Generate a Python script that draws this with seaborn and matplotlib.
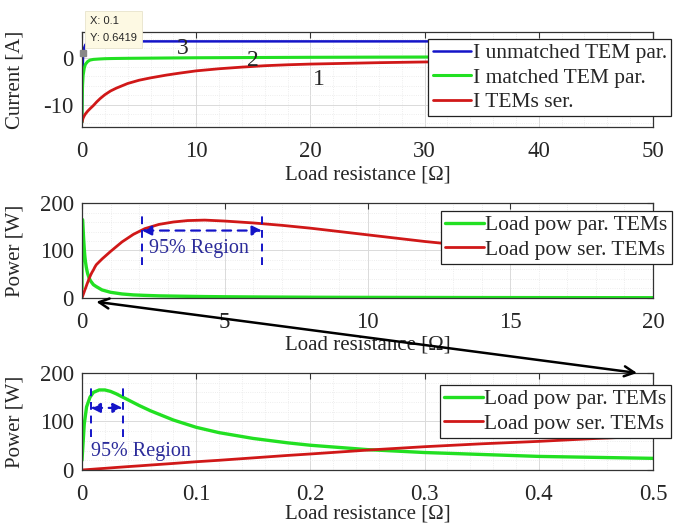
import numpy as np
import pandas as pd
import matplotlib
matplotlib.use('Agg')
import matplotlib.pyplot as plt
from matplotlib.patches import ConnectionPatch
from matplotlib.ticker import MultipleLocator, StrMethodFormatter
import seaborn as sns


# Current vs load resistance (top panel)
r_cur = [0, 0.02, 0.05, 0.1, 0.2, 0.3, 0.5, 0.7, 1, 1.3, 1.6, 2, 2.5, 3, 4, 5, 6, 7.4, 8.5, 10,
         12, 14, 16, 18, 20, 23, 26, 30, 35, 40, 45, 50]
i_unmatched = [-13.8, -8, -3, 0.64, 2.2, 2.8, 3.2, 3.35, 3.45, 3.5, 3.5, 3.5, 3.5, 3.5, 3.5,
               3.5, 3.5, 3.5, 3.5, 3.5, 3.5, 3.5, 3.5, 3.5, 3.5, 3.5, 3.5, 3.5, 3.5, 3.5,
               3.5, 3.5]
i_matched = [-13.8, -9, -6, -3.8, -2.2, -1.4, -0.8, -0.5, -0.35, -0.3, -0.25, -0.2, -0.17,
             -0.15, -0.12, -0.1, -0.08, -0.05, -0.03, 0, 0.02, 0.04, 0.06, 0.08, 0.1, 0.12,
             0.14, 0.16, 0.18, 0.2, 0.2, 0.2]
i_series = [-13.8, -13.6, -13.3, -12.9, -12.4, -12.0, -11.4, -10.9, -10.2, -9.4, -8.7, -7.9,
            -7.1, -6.5, -5.5, -4.8, -4.3, -3.7, -3.3, -2.8, -2.35, -2.0, -1.7, -1.5, -1.35,
            -1.2, -1.05, -0.9, -0.8, -0.7, -0.6, -0.55]

# Load power vs load resistance (middle and bottom panels)
r_pow = [0, 0.002, 0.004, 0.007, 0.01, 0.015, 0.02, 0.025, 0.03, 0.04, 0.05, 0.06, 0.08,
         0.1, 0.12, 0.15, 0.18, 0.2, 0.25, 0.3, 0.35, 0.4, 0.45, 0.5, 0.7, 1.0, 1.4, 1.8,
         2.2, 2.7, 3.2, 3.7, 4.3, 5, 6, 7, 8, 9, 10, 11, 12, 13, 14, 15, 16, 17, 18, 19, 20]
p_par = [20, 95, 130, 150, 160, 165, 165, 162, 157, 145, 133, 122, 103, 88, 77, 65, 56, 51,
         42, 36, 32, 28, 26, 24, 17, 12, 8.5, 6.5, 5.5, 4.5, 4, 3.5, 3, 2.6, 2.2, 1.9, 1.6,
         1.4, 1.3, 1.2, 1.1, 1.0, 0.9, 0.85, 0.8, 0.75, 0.7, 0.65, 0.6]
p_ser = [0, 0.35, 0.7, 1.2, 1.7, 2.6, 3.4, 4.3, 5.2, 6.9, 8.5, 10.2, 13.5, 17, 20, 25, 30,
         33, 41, 48, 54, 59, 65, 70, 82, 98, 118, 134, 146, 155, 160, 163, 164, 162, 158,
         153, 147, 140, 133, 126, 119, 113, 108, 103, 98, 94, 90, 87, 84]

# 95% region markers
mid_region = (2.1, 6.3)
low_region = (0.0076, 0.0356)

blue = '#1414c8'
green = '#22e022'
red = '#d01818'
txt_blue = '#2b2b9a'

sns.set_style('white')
plt.rcParams['font.family'] = ['Liberation Serif', 'DejaVu Serif']
plt.rcParams['axes.unicode_minus'] = False

fig = plt.figure(figsize=(6.81, 5.31), dpi=100)
ax1 = fig.add_axes([0.1204, 0.7608, 0.8385, 0.1789])
ax2 = fig.add_axes([0.1204, 0.4388, 0.8385, 0.1789])
ax3 = fig.add_axes([0.1204, 0.1149, 0.8385, 0.1827])


def style_axis(ax, xmaj, xmin, ymaj, ymin):
    ax.xaxis.set_major_locator(MultipleLocator(xmaj))
    ax.xaxis.set_minor_locator(MultipleLocator(xmin))
    ax.yaxis.set_major_locator(MultipleLocator(ymaj))
    ax.yaxis.set_minor_locator(MultipleLocator(ymin))
    ax.xaxis.set_major_formatter(StrMethodFormatter('{x:g}'))
    ax.yaxis.set_major_formatter(StrMethodFormatter('{x:g}'))
    ax.grid(which='major', color='#dadada', lw=0.7)
    ax.grid(which='minor', color='#e8e8e8', lw=0.6, ls=':')
    ax.tick_params(which='major', direction='in', length=4, width=0.8, top=True, right=True,
                   labelsize=16.5, color='#333333')
    ax.tick_params(which='minor', length=0)
    ax.tick_params(axis='x', pad=10)
    ax.tick_params(axis='y', pad=6)
    for s in ax.spines.values():
        s.set_color('#333333')
        s.set_linewidth(0.9)


# Top: currents
sns.lineplot(x=r_cur, y=i_unmatched, ax=ax1, color=blue, lw=1.8, estimator=None, sort=False,
             label='I unmatched TEM par.')
sns.lineplot(x=r_cur, y=i_matched, ax=ax1, color=green, lw=2.2, estimator=None, sort=False,
             label='I matched TEM par.')
sns.lineplot(x=r_cur, y=i_series, ax=ax1, color=red, lw=2.0, estimator=None, sort=False,
             label='I TEMs ser.')
ax1.set_xlim(0, 50)
ax1.set_ylim(-14.8, 5.5)
style_axis(ax1, 10, 2, 10, 2)
ax1.set_ylabel('Current [A]', fontsize=15)
ax1.set_xlabel('Load resistance [Ω]', fontsize=15)
ax1.text(8.85, 1.9, '3', fontsize=17, ha='center', va='center')
ax1.text(15.0, -0.6, '2', fontsize=17, ha='center', va='center')
ax1.text(20.7, -4.7, '1', fontsize=17, ha='center', va='center')
ax1.plot([0.05], [1.0], marker='s', ms=5, color='#888888', clip_on=False, zorder=5)
ax1.text(0.014, 1.17, 'X: 0.1\nY: 0.6419', transform=ax1.transAxes, fontsize=8,
         family='Liberation Sans', va='top', ha='left', linespacing=1.9, zorder=6,
         bbox=dict(boxstyle='square,pad=0.45', fc='#fdf9e3', ec='#e8e4cc', lw=0.6))

# Middle: power, 0-20 ohm
sns.lineplot(x=r_pow, y=p_par, ax=ax2, color=green, lw=2.4, estimator=None, sort=False,
             label='Load pow par. TEMs')
sns.lineplot(x=r_pow, y=p_ser, ax=ax2, color=red, lw=2.0, estimator=None, sort=False,
             label='Load pow ser. TEMs')
ax2.set_xlim(0, 20)
ax2.set_ylim(0, 200)
style_axis(ax2, 5, 1, 100, 20)
ax2.set_ylabel('Power [W]', fontsize=15)
ax2.set_xlabel('Load resistance [Ω]', fontsize=15)
ax2.vlines(mid_region, 69, 177, colors=blue, linestyles=(0, (4, 3)), lw=1.4)
ax2.annotate('', xy=(mid_region[1], 142), xytext=(mid_region[0], 142),
             arrowprops=dict(arrowstyle='<|-|>', color=blue, lw=1.6, ls=(0, (4, 3)),
                             mutation_scale=14, shrinkA=0, shrinkB=0))
ax2.text(4.1, 104, '95% Region', color=txt_blue, fontsize=14.5, ha='center', va='center')

# Bottom: power, 0-0.5 ohm
sns.lineplot(x=r_pow, y=p_par, ax=ax3, color=green, lw=2.4, estimator=None, sort=False,
             label='Load pow par. TEMs')
sns.lineplot(x=r_pow, y=p_ser, ax=ax3, color=red, lw=2.0, estimator=None, sort=False,
             label='Load pow ser. TEMs')
ax3.set_xlim(0, 0.5)
ax3.set_ylim(0, 200)
style_axis(ax3, 0.1, 0.02, 100, 20)
ax3.set_ylabel('Power [W]', fontsize=15)
ax3.set_xlabel('Load resistance [Ω]', fontsize=15)
ax3.vlines(low_region, 68, 179, colors=blue, linestyles=(0, (4, 3)), lw=1.4)
ax3.annotate('', xy=(low_region[1], 128), xytext=(low_region[0], 128),
             arrowprops=dict(arrowstyle='<|-|>', color=blue, lw=1.6, ls=(0, (4, 3)),
                             mutation_scale=14, shrinkA=0, shrinkB=0))
ax3.text(0.052, 39, '95% Region', color=txt_blue, fontsize=14.5, ha='center', va='center')

# labels placement
for ax, ly in [(ax1, -0.40), (ax2, -0.39), (ax3, -0.36)]:
    ax.xaxis.set_label_coords(0.5, ly)
    ax.yaxis.set_label_coords(-0.1, 0.5)

# legends
leg_kw = dict(loc='upper right', fontsize=15.5, frameon=True, fancybox=False, framealpha=1,
              edgecolor='#222222', handlelength=1.8, handletextpad=0.05, borderpad=0.2,
              labelspacing=0.2, borderaxespad=0)
for ax, anchor in [(ax1, (1.0315, 0.926)), (ax2, (1.033, 0.916)), (ax3, (1.031, 0.876))]:
    leg = ax.legend(bbox_to_anchor=anchor, **leg_kw)
    leg.get_frame().set_linewidth(0.9)
    leg.set_zorder(10)

# double arrow linking the zoomed range
con = ConnectionPatch(xyA=(0.5, -8), coordsA=ax2.transData,
                      xyB=(0.486, 200), coordsB=ax3.transData,
                      arrowstyle='<->', color='black', lw=1.8, mutation_scale=18,
                      shrinkA=0, shrinkB=0)
fig.add_artist(con)

fig.savefig('out.png', dpi=100)
